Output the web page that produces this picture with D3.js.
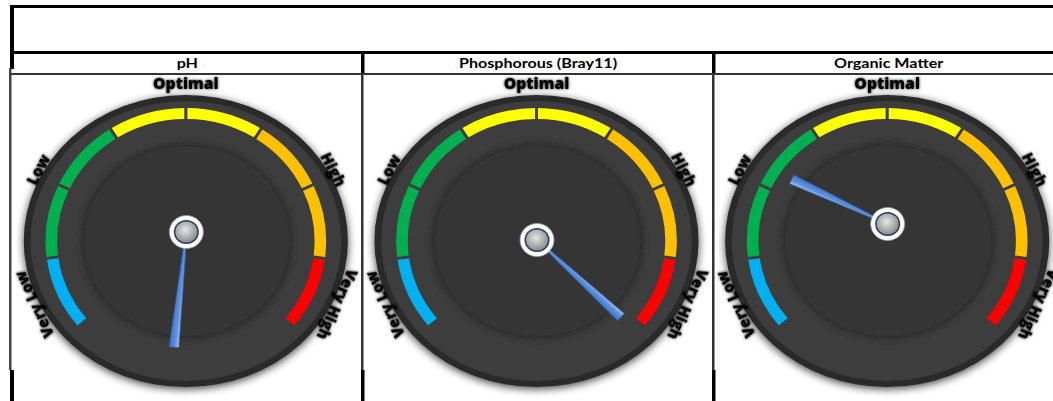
<!DOCTYPE html>
<html><head><meta charset="utf-8">
<script src="https://cdn.jsdelivr.net/npm/d3@7"></script>
<style>
body{margin:0;background:#fff;overflow:hidden}
svg{display:block}
</style></head>
<body>
<svg id="chart" width="1053" height="401"></svg>
<script>
// ---------- data ----------
const gaugeTitles = ["pH", "Phosphorous (Bray11)", "Organic Matter"];
const bandLabels = ["Very Low", "Low", "Optimal", "High", "Very High"];
const bandColors = ["#00b0f0", "#00b050", "#ffff00", "#ffc000", "#ff0000"];
// dial is made of 8 equal segments, each belonging to a band
const segmentBands = ["Very Low", "Low", "Low", "Optimal", "Optimal", "High", "High", "Very High"];
// label position on the dial, in segment units
const labelPositions = [0.5, 2.06, 4, 5.94, 7.5];
// needle reading for each gauge, in segment units (0 = start of dial, 8 = end)
const needleValues = [-1.35, 8.08, 2.0];

// ---------- layout ----------
const colEdges = [12, 362.5, 713.5, 1064];
const gaugeCY = 241;
const hubShiftY = [-9, -1, -17];
const needleLen = [116, 114, 106];
const ARC_SX = 1.055, TEXT_SX = 1.05, DISC_SX = 1.11;

const svg = d3.select("#chart");
const defs = svg.append("defs");

// filters
const ds = defs.append("filter").attr("id", "discShadow")
  .attr("x", "-20%").attr("y", "-20%").attr("width", "140%").attr("height", "140%");
ds.append("feGaussianBlur").attr("in", "SourceAlpha").attr("stdDeviation", 4).attr("result", "b");
ds.append("feOffset").attr("in", "b").attr("dx", 0).attr("dy", 2).attr("result", "o");
ds.append("feComponentTransfer").attr("in", "o").attr("result", "o2")
  .append("feFuncA").attr("type", "linear").attr("slope", 0.75);
const dm = ds.append("feMerge");
dm.append("feMergeNode").attr("in", "o2");
dm.append("feMergeNode").attr("in", "SourceGraphic");

const ts = defs.append("filter").attr("id", "textShadow")
  .attr("x", "-30%").attr("y", "-50%").attr("width", "160%").attr("height", "200%");
ts.append("feGaussianBlur").attr("in", "SourceAlpha").attr("stdDeviation", 1.7).attr("result", "b");
ts.append("feComponentTransfer").attr("in", "b").attr("result", "b2")
  .append("feFuncA").attr("type", "linear").attr("slope", 0.9);
const tm = ts.append("feMerge");
tm.append("feMergeNode").attr("in", "b2");
tm.append("feMergeNode").attr("in", "SourceGraphic");

const innerBlur = defs.append("filter").attr("id", "innerBlur")
  .attr("x", "-20%").attr("y", "-20%").attr("width", "140%").attr("height", "140%");
innerBlur.append("feGaussianBlur").attr("stdDeviation", 2.5);

const hubGrad = defs.append("radialGradient").attr("id", "hubGrad")
  .attr("cx", "45%").attr("cy", "40%").attr("r", "60%");
hubGrad.append("stop").attr("offset", "0%").attr("stop-color", "#e6e6e6");
hubGrad.append("stop").attr("offset", "100%").attr("stop-color", "#8c8c8c");

const needleGrad = defs.append("linearGradient").attr("id", "needleGrad")
  .attr("x1", "0").attr("x2", "1").attr("y1", "0").attr("y2", "0");
needleGrad.append("stop").attr("offset", "0%").attr("stop-color", "#a8c6f0");
needleGrad.append("stop").attr("offset", "40%").attr("stop-color", "#6092dc");
needleGrad.append("stop").attr("offset", "100%").attr("stop-color", "#3f72c4");

// ---------- table ----------
const table = svg.append("g");
table.append("rect").attr("x", 10).attr("y", 5).attr("width", 1100).attr("height", 3).attr("fill", "#000");
table.append("rect").attr("x", 10).attr("y", 51).attr("width", 1100).attr("height", 3).attr("fill", "#000");
table.append("rect").attr("x", 10).attr("y", 73).attr("width", 1100).attr("height", 2).attr("fill", "#333");
table.append("rect").attr("x", 10).attr("y", 5).attr("width", 4).attr("height", 64).attr("fill", "#000");
table.append("rect").attr("x", 9).attr("y", 68).attr("width", 2.5).attr("height", 302).attr("fill", "#444");
table.append("rect").attr("x", 10).attr("y", 370).attr("width", 4).attr("height", 31).attr("fill", "#000");
[362, 713].forEach(x => {
  table.append("rect").attr("x", x - 1).attr("y", 51).attr("width", 3.5).attr("height", 22).attr("fill", "#000");
  table.append("rect").attr("x", x - 1).attr("y", 73).attr("width", 2.5).attr("height", 297).attr("fill", "#333");
  table.append("rect").attr("x", x - 1).attr("y", 370).attr("width", 3.5).attr("height", 31).attr("fill", "#000");
});

const colX = d3.scaleBand().domain(gaugeTitles).range([colEdges[0], colEdges[3]]);

table.selectAll("text.title").data(gaugeTitles).join("text")
  .attr("class", "title")
  .attr("transform", d => `translate(${colX(d) + colX.bandwidth() / 2},68) scale(1.15,1)`)
  .attr("text-anchor", "middle")
  .attr("font-family", "Lato, 'Open Sans', sans-serif")
  .attr("font-weight", 700)
  .attr("font-size", 14)
  .attr("fill", "#000")
  .text(d => d);

// ---------- gauges ----------
const angle = d3.scaleLinear().domain([0, 8]).range([-130, 130]);
const bandColor = d3.scaleOrdinal().domain(bandLabels).range(bandColors);
const rad = d => d * Math.PI / 180;

const segArc = d3.arc().innerRadius(122).outerRadius(133).padAngle(0.016);

gaugeTitles.forEach((title, gi) => {
  const cx = colX(title) + colX.bandwidth() / 2 - 1.5;
  const g = svg.append("g").attr("transform", `translate(${cx},${gaugeCY})`);

  // disc
  const disc = g.append("g").attr("transform", `scale(${DISC_SX},1)`);
  disc.append("circle").attr("r", 146).attr("fill", "#292929").attr("filter", "url(#discShadow)");
  disc.append("circle").attr("r", 140).attr("fill", "#3d3d3d");
  const inner = g.append("g").attr("transform", `translate(1,0) scale(1.08,1)`);
  inner.append("circle").attr("r", 99).attr("fill", "#2f2f2f").attr("filter", "url(#innerBlur)");
  inner.append("circle").attr("r", 95).attr("fill", "#353535");

  // coloured segments
  const arcs = g.append("g").attr("transform", `scale(${ARC_SX},1)`);
  arcs.selectAll("path.seg").data(segmentBands).join("path")
    .attr("class", "seg")
    .attr("d", (d, i) => segArc({ startAngle: rad(angle(i)), endAngle: rad(angle(i + 1)) }))
    .attr("fill", d => bandColor(d));

  // band labels
  const labels = g.append("g").attr("transform", `scale(${TEXT_SX},1)`);
  labels.selectAll("text.band").data(bandLabels).join("text")
    .attr("class", "band")
    .attr("transform", (d, i) => {
      const a = angle(labelPositions[i]);
      const r = 157;
      return `translate(${r * Math.sin(rad(a))},${-r * Math.cos(rad(a))}) rotate(${a})`;
    })
    .attr("text-anchor", "middle")
    .attr("dy", "0.35em")
    .attr("font-family", "'Open Sans', 'DejaVu Sans', sans-serif")
    .attr("font-weight", 800)
    .attr("font-size", 15)
    .attr("fill", "#000")
    .attr("filter", "url(#textShadow)")
    .text(d => d);

  // needle + hub
  const hub = g.append("g").attr("transform", `translate(0.5,${hubShiftY[gi]})`);
  const a = angle(needleValues[gi]);
  const L = needleLen[gi];
  hub.append("path")
    .attr("transform", `rotate(${a})`)
    .attr("d", `M-1.2,-12 L-5,${-L} L5,${-L} L1.2,-12 Z`)
    .attr("fill", "url(#needleGrad)")
    .attr("stroke", "#2f5597")
    .attr("stroke-width", 0.7);
  hub.append("ellipse").attr("rx", 17).attr("ry", 16.5).attr("fill", "#ffffff").attr("stroke", "#9a9a9a").attr("stroke-width", 0.8);
  hub.append("ellipse").attr("rx", 12.5).attr("ry", 12).attr("fill", "#1f3d66");
  hub.append("ellipse").attr("rx", 11).attr("ry", 10.5).attr("fill", "url(#hubGrad)");
});
</script>
</body></html>
